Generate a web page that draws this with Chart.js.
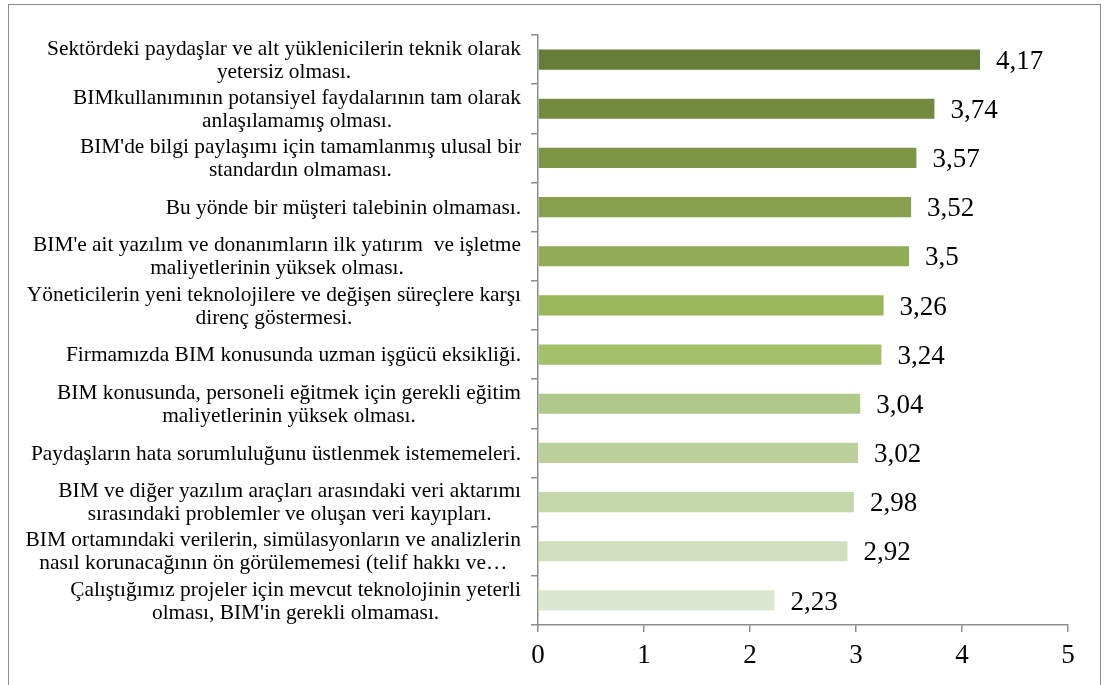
<!DOCTYPE html>
<html>
<head>
<meta charset="utf-8">
<script src="https://cdn.jsdelivr.net/npm/chart.js@4"></script>
<style>
  html, body { margin: 0; padding: 0; background: #fff; overflow: hidden; }
  #frame { position: absolute; left: 8px; top: 4px; width: 1091px; height: 700px; border: 1px solid #8c8c8c; }
  #wrap { position: absolute; left: 0; top: 0; width: 1105px; height: 685px; }
</style>
</head>
<body>
<div id="frame"></div>
<div id="wrap"><canvas id="grafico"></canvas></div>
<script>
// ---- datos ----
const etiquetas = [
  ["Sektördeki paydaşlar ve alt yüklenicilerin teknik olarak", "yetersiz olması."],
  ["BIMkullanımının potansiyel faydalarının tam olarak", "anlaşılamamış olması."],
  ["BIM'de bilgi paylaşımı için tamamlanmış ulusal bir", "standardın olmaması."],
  ["Bu yönde bir müşteri talebinin olmaması."],
  ["BIM'e ait yazılım ve donanımların ilk yatırım  ve işletme", "maliyetlerinin yüksek olması."],
  ["Yöneticilerin yeni teknolojilere ve değişen süreçlere karşı", "direnç göstermesi."],
  ["Firmamızda BIM konusunda uzman işgücü eksikliği."],
  ["BIM konusunda, personeli eğitmek için gerekli eğitim", "maliyetlerinin yüksek olması."],
  ["Paydaşların hata sorumluluğunu üstlenmek istememeleri."],
  ["BIM ve diğer yazılım araçları arasındaki veri aktarımı", "sırasındaki problemler ve oluşan veri kayıpları."],
  ["BIM ortamındaki verilerin, simülasyonların ve analizlerin", "nasıl korunacağının ön görülememesi (telif hakkı ve…"],
  ["Çalıştığımız projeler için mevcut teknolojinin yeterli", "olması, BIM'in gerekli olmaması."]
];
const valores = [4.17, 3.74, 3.57, 3.52, 3.5, 3.26, 3.24, 3.04, 3.02, 2.98, 2.92, 2.23];
const colores = [
  "#677c38", "#72893e", "#7d9645", "#88a04e", "#92ab55", "#9bb75b",
  "#a4c06a", "#b0c98a", "#bbd09b", "#c6d7ab", "#d2dfbe", "#dde6cf"
];
const ticksX = [0, 1, 2, 3, 4, 5];

const FUENTE = "'Liberation Serif', 'Times New Roman', serif";
const GRIS = "#8c8c8c";

// etiquetas del eje Y: bloque alineado a la derecha, lineas centradas (como Excel)
const pluginEtiquetas = {
  id: "etiquetasY",
  afterDraw(chart) {
    const ctx = chart.ctx;
    const y = chart.scales.y;
    const derecha = y.right - 17;
    const alto = 23;
    ctx.save();
    ctx.font = "21.4px " + FUENTE;
    ctx.fillStyle = "#000";
    ctx.textAlign = "center";
    ctx.textBaseline = "middle";
    etiquetas.forEach((lineas, i) => {
      const cy = y.getPixelForTick(i);
      const ancho = Math.max(...lineas.map(l => ctx.measureText(l).width));
      const cx = derecha - ancho / 2;
      const y0 = cy - (lineas.length - 1) * alto / 2 + 1;
      lineas.forEach((l, k) => ctx.fillText(l, cx, y0 + k * alto));
    });
    ctx.restore();
  }
};

// valores al final de cada barra
const pluginValores = {
  id: "valores",
  afterDatasetsDraw(chart) {
    const ctx = chart.ctx;
    const meta = chart.getDatasetMeta(0);
    ctx.save();
    ctx.font = "27px " + FUENTE;
    ctx.fillStyle = "#000";
    ctx.textAlign = "left";
    ctx.textBaseline = "middle";
    meta.data.forEach((bar, i) => {
      ctx.fillText(String(valores[i]).replace(".", ","), bar.x + 16, bar.y + 2);
    });
    ctx.restore();
  }
};

new Chart(document.getElementById("grafico"), {
  type: "bar",
  data: {
    labels: etiquetas.map(l => l.join(" ")),
    datasets: [{
      data: valores,
      backgroundColor: colores,
      borderWidth: 0,
      barPercentage: 0.41,
      categoryPercentage: 1
    }]
  },
  options: {
    indexAxis: "y",
    responsive: true,
    maintainAspectRatio: false,
    animation: false,
    layout: { padding: { top: 35, right: 37, bottom: 0, left: 0 } },
    plugins: { legend: { display: false }, tooltip: { enabled: false } },
    scales: {
      x: {
        min: 0,
        max: 5,
        afterBuildTicks: s => { s.ticks = ticksX.map(v => ({ value: v })); },
        grid: { drawOnChartArea: false, drawTicks: true, tickLength: 7, color: GRIS, lineWidth: 1.5 },
        border: { color: GRIS, width: 1.5 },
        ticks: { color: "#000", font: { family: FUENTE, size: 27 }, padding: 8 },
        afterFit: s => { s.height = 60; }
      },
      y: {
        grid: { drawOnChartArea: false, drawTicks: true, tickLength: 7, color: GRIS, lineWidth: 1.5, offset: true },
        border: { color: GRIS, width: 1.5 },
        ticks: { display: false },
        afterFit: s => { s.width = 538; }
      }
    }
  },
  plugins: [pluginEtiquetas, pluginValores]
});
</script>
</body>
</html>
